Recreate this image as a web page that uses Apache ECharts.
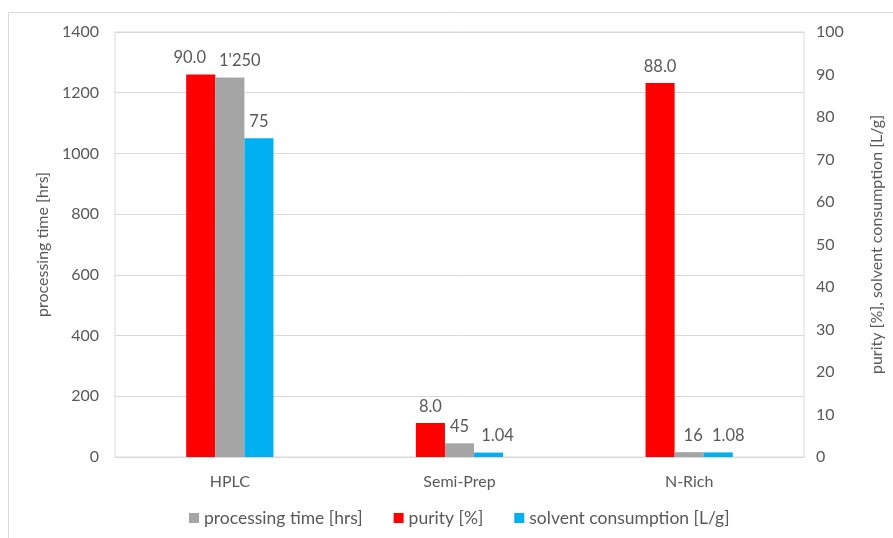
<!DOCTYPE html>
<html>
<head>
<meta charset="utf-8">
<script src="https://cdn.jsdelivr.net/npm/echarts@6/dist/echarts.min.js"></script>
<style>html,body{margin:0;padding:0;background:#fff;}#c{width:893px;height:538px;}</style>
</head>
<body>
<div id="c"></div>
<script>
var categories = ['HPLC', 'Semi-Prep', 'N-Rich'];
var purity = [90.0, 8.0, 88.0];
var processingTime = [1250, 45, 16];
var solventConsumption = [75, 1.04, 1.08];
var leftTicks = {min: 0, max: 1400, interval: 200};
var rightTicks = {min: 0, max: 100, interval: 10};

var txt = '#595959';
var font = "Lato, 'Open Sans', sans-serif";
var fs = 16;
var fsLabel = 16.5;
var fsLegend = 17.5;
function fmtThousands(v){ return String(v).replace(/\B(?=(\d{3})+(?!\d))/g, "'"); }

// Excel nudged crowded data labels sideways; nudges given per category index
function withNudge(values, nudges){
  return values.map(function(v, i){
    return nudges[i] ? {value: v, label: {offset: [nudges[i], 0]}} : v;
  });
}

var chart = echarts.init(document.getElementById('c'), null, {renderer: 'canvas'});
chart.setOption({
  animation: false,
  textStyle: {fontFamily: font, color: txt},
  graphic: [{type: 'rect', shape: {x: 8.5, y: 12.5, width: 900, height: 540}, style: {fill: 'none', stroke: '#d9d9d9', lineWidth: 1}, silent: true}],
  grid: {left: 115, right: 83, top: 32, bottom: 81, show: true, borderColor: '#d9d9d9', borderWidth: 1},
  legend: {
    bottom: 6, left: 184, itemWidth: 10, itemHeight: 10, itemGap: 31, itemStyle: {borderWidth: 0}, icon: 'rect',
    textStyle: {color: txt, fontSize: fsLegend, fontFamily: font},
    data: ['processing time [hrs]', 'purity [%]', 'solvent consumption [L/g]']
  },
  xAxis: {
    type: 'category', data: categories,
    axisLine: {lineStyle: {color: '#d9d9d9'}}, axisTick: {show: false},
    axisLabel: {color: txt, fontSize: fs, margin: 17, fontFamily: font}
  },
  yAxis: [{
    type: 'value', min: leftTicks.min, max: leftTicks.max, interval: leftTicks.interval,
    name: 'processing time [hrs]', nameLocation: 'middle', nameGap: 62,
    nameTextStyle: {color: txt, fontSize: fs, fontFamily: font},
    axisLabel: {color: txt, fontSize: fs, margin: 16, fontFamily: font, formatter: function(v){ return String(v); }},
    axisLine: {show: false}, axisTick: {show: false},
    splitLine: {lineStyle: {color: '#d9d9d9'}}
  }, {
    type: 'value', min: rightTicks.min, max: rightTicks.max, interval: rightTicks.interval,
    name: 'purity [%], solvent consumption [L/g]', nameLocation: 'middle', nameGap: 65,
    nameTextStyle: {color: txt, fontSize: fs, fontFamily: font},
    axisLabel: {color: txt, fontSize: fs, margin: 12, fontFamily: font},
    axisLine: {show: false}, axisTick: {show: false}, splitLine: {show: false}
  }],
  series: [{
    name: 'purity [%]', type: 'bar', yAxisIndex: 1, data: withNudge(purity, [-11, 0, 0]),
    itemStyle: {color: '#FF0000'}, barGap: '0%', barCategoryGap: '62%',
    label: {show: true, position: 'top', distance: 8, color: txt, fontSize: fsLabel, fontFamily: font,
      formatter: function(p){ return p.value.toFixed(1); }}
  }, {
    name: 'processing time [hrs]', type: 'bar', yAxisIndex: 0, data: withNudge(processingTime, [10, 0, 4]),
    itemStyle: {color: '#A5A5A5'}, barGap: '0%', barCategoryGap: '62%',
    label: {show: true, position: 'top', distance: 8, color: txt, fontSize: fsLabel, fontFamily: font,
      formatter: function(p){ return fmtThousands(p.value); }}
  }, {
    name: 'solvent consumption [L/g]', type: 'bar', yAxisIndex: 1, data: withNudge(solventConsumption, [0, 9, 10]),
    itemStyle: {color: '#00B0F0'}, barGap: '0%', barCategoryGap: '62%',
    label: {show: true, position: 'top', distance: 8, color: txt, fontSize: fsLabel, fontFamily: font,
      formatter: function(p){ return String(p.value); }}
  }]
});
</script>
</body>
</html>
